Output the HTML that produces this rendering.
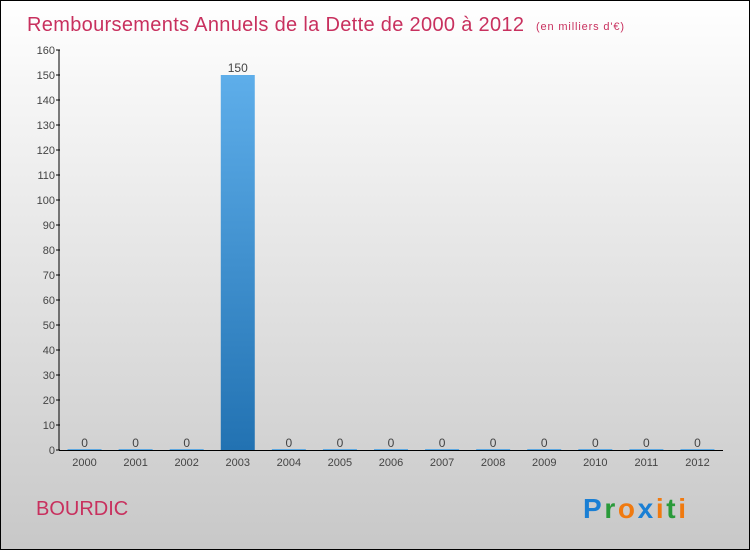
<!DOCTYPE html>
<html><head><meta charset="utf-8"><style>
body{margin:0}
#wrap{width:748px;height:548px;border:1px solid #000;background:linear-gradient(#ffffff,#c8c8c8);position:relative;overflow:hidden;font-family:"Liberation Sans",sans-serif}
</style></head><body>
<div id="wrap">
<svg id="chart" width="748" height="548">
<text x="26" y="30" font-size="20" fill="#c8305e" textLength="497">Remboursements Annuels de la Dette de 2000 à 2012</text>
<text x="535" y="29" font-size="11" fill="#c8305e" textLength="88">(en milliers d'€)</text>
<text x="35" y="514" font-size="20" fill="#c8305e">BOURDIC</text>
<text x="582" y="517" font-size="28" font-weight="bold" textLength="103"><tspan fill="#1a7fd4">P</tspan><tspan fill="#2a9a3a">r</tspan><tspan fill="#f07a10">o</tspan><tspan fill="#1a7fd4">x</tspan><tspan fill="#f07a10">i</tspan><tspan fill="#2a9a3a">t</tspan><tspan fill="#f07a10">i</tspan></text>
<defs><linearGradient id="bg" x1="0" y1="0" x2="0" y2="1"><stop offset="0" stop-color="#5eaeea"/><stop offset="1" stop-color="#2272b2"/></linearGradient></defs>
<g id="plot"></g>
</svg></div>
<script>
const categories=["2000","2001","2002","2003","2004","2005","2006","2007","2008","2009","2010","2011","2012"];
const values=[0,0,0,150,0,0,0,0,0,0,0,0,0];
const yTicks=[0,10,20,30,40,50,60,70,80,90,100,110,120,130,140,150,160];
const ns="http://www.w3.org/2000/svg";
const g=document.getElementById("plot");
const x0=58,x1=722,yBase=449,yTop=49,yMax=160;
const y=v=>yBase-(v/yMax)*(yBase-yTop);
const step=(x1-x0)/categories.length;
const cx=i=>x0+step*(i+0.5);
function el(t,a,txt){const e=document.createElementNS(ns,t);for(const k in a)e.setAttribute(k,a[k]);if(txt!==undefined)e.textContent=txt;g.appendChild(e);return e;}
categories.forEach((c,i)=>{
 const v=values[i];const bw=34;const top=y(v);
 const r=el("rect",{x:cx(i)-bw/2,y:Math.min(top,yBase-1),width:bw,height:Math.max(yBase-top,1),fill:v>0?"url(#bg)":"#5ea8e0"});
 
 
 const l=el("text",{x:cx(i),y:top-3,"font-size":"12","text-anchor":"middle",fill:"#444"},String(v));
 
 
 const t=el("text",{x:cx(i),y:yBase+16,"font-size":"11","text-anchor":"middle",fill:"#444"},c);
 
 
});
yTicks.forEach(v=>{
 const tl=el("line",{x1:x0-3,x2:x0+1,y1:y(v),y2:y(v),stroke:"#000"});
 
 
 const t=el("text",{x:x0-4,y:y(v)+4,"font-size":"11","text-anchor":"end",fill:"#444"},String(v));
 
 
});
const ya=el("line",{x1:x0,x2:x0,y1:yTop,y2:yBase,stroke:"#000"});


const xa=el("line",{x1:x0,x2:x1,y1:yBase+0.5,y2:yBase+0.5,stroke:"#000"});


</script>
</body></html>
